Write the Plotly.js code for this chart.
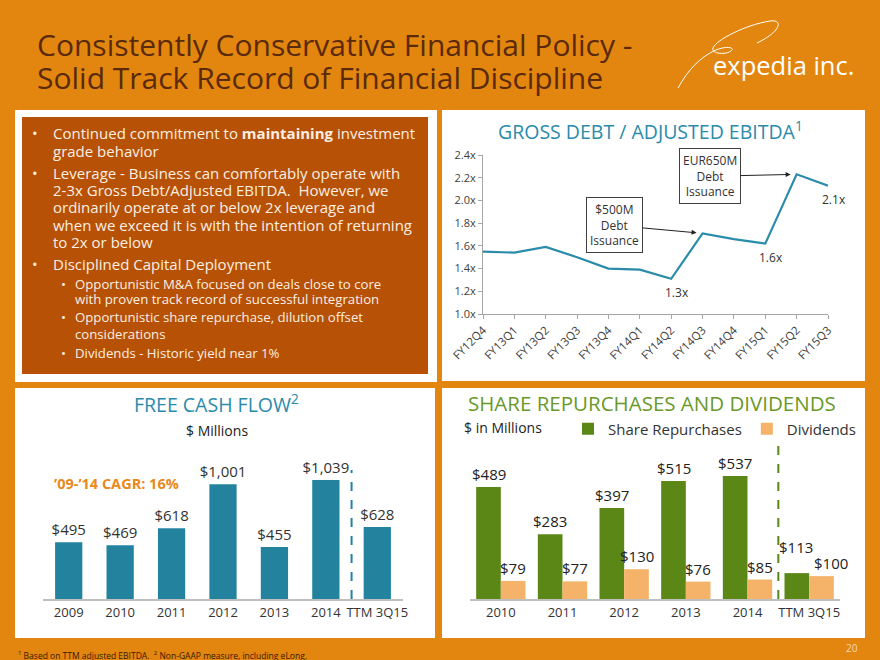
<!DOCTYPE html>
<html>
<head>
<meta charset="utf-8">
<script src="https://cdn.plot.ly/plotly-3.0.1.min.js"></script>
<style>html,body{margin:0;padding:0;background:#E2860F;}#chart{width:880px;height:660px;}</style>
</head>
<body>
<div id="chart"></div>
<script>
// ---------- DATA ----------
const debtQuarters = ['FY12Q4','FY13Q1','FY13Q2','FY13Q3','FY13Q4','FY14Q1','FY14Q2','FY14Q3','FY14Q4','FY15Q1','FY15Q2','FY15Q3'];
const debtRatio = [1.55,1.54,1.59,1.50,1.40,1.39,1.31,1.71,1.66,1.62,2.23,2.13];
const debtLabels = ['','','','','','','1.3x','','','1.6x','','2.1x'];
const debtNotes = ['$500M<br>Debt<br>Issuance','EUR650M<br>Debt<br>Issuance'];
const debtNoteAt = ['FY14Q3','FY15Q2'];

const fcfYears = ['2009','2010','2011','2012','2013','2014','TTM 3Q15'];
const fcfValues = [495,469,618,1001,455,1039,628];

const shareYears = ['2010','2011','2012','2013','2014','TTM 3Q15'];
const repurchases = [489,283,397,515,537,113];
const dividends = [79,77,130,76,85,100];

const titleLines = ['Consistently Conservative Financial Policy -','Solid Track Record of Financial Discipline'];
const bulletLines = [
  ['•','Continued commitment to <b>maintaining</b> investment',1],
  ['','grade behavior',1],
  ['•','Leverage - Business can comfortably operate with',1],
  ['','2-3x Gross Debt/Adjusted EBITDA.  However, we',1],
  ['','ordinarily operate at or below 2x leverage and',1],
  ['','when we exceed it is with the intention of returning',1],
  ['','to 2x or below',1],
  ['•','Disciplined Capital Deployment',1],
  ['•','Opportunistic M&A focused on deals close to core',2],
  ['','with proven track record of successful integration',2],
  ['•','Opportunistic share repurchase, dilution offset',2],
  ['','considerations',2],
  ['•','Dividends - Historic yield near 1%',2]
];
const bulletY = [133,151,173,190,207,225,242,264,284,299,317,334,353];

// ---------- STYLE ----------
const W = 880, H = 660;
const FONT = 'Open Sans, sans-serif';
const ORANGE = '#E2860F', DARKBOX = '#B65105', BROWN = '#5A2A0A';
const TEAL = '#2A8BAA', TEALBAR = '#23839F', GREEN = '#5B8717', GREENTXT = '#6A992A', PEACH = '#F5B36A';
const px = x => x / W;
const py = y => 1 - y / H;
const pt = (x, y) => px(x).toFixed(5) + ',' + py(y).toFixed(5);

// ---------- TRACES ----------
const traces = [
  {type:'scatter', mode:'lines', x:debtQuarters, y:debtRatio, xaxis:'x', yaxis:'y',
   line:{color:TEAL, width:2.2}, showlegend:false, hoverinfo:'skip'},
  {type:'bar', x:fcfYears, y:fcfValues, xaxis:'x2', yaxis:'y2', width:0.53,
   marker:{color:TEALBAR}, texttemplate:'$%{y:,}', textposition:'outside',
   textfont:{size:15, color:'#333', family:FONT}, cliponaxis:false, constraintext:'none', showlegend:false},
  {type:'bar', name:'Share Repurchases', x:shareYears, y:repurchases, xaxis:'x3', yaxis:'y3',
   marker:{color:GREEN}, textposition:'none'},
  {type:'bar', name:'Dividends', x:shareYears, y:dividends, xaxis:'x3', yaxis:'y3',
   marker:{color:PEACH}, textposition:'none'}
];

// ---------- SHAPES ----------
const shapes = [
  {type:'rect', xref:'paper', yref:'paper', x0:px(15), x1:px(437), y0:py(382), y1:py(110), fillcolor:'#FFFFFF', line:{width:0}, layer:'below'},
  {type:'rect', xref:'paper', yref:'paper', x0:px(22), x1:px(428), y0:py(374), y1:py(117), fillcolor:DARKBOX, line:{width:0}, layer:'below'},
  {type:'rect', xref:'paper', yref:'paper', x0:px(442), x1:px(865), y0:py(381), y1:py(110), fillcolor:'#FFFFFF', line:{width:0}, layer:'below'},
  {type:'rect', xref:'paper', yref:'paper', x0:px(15), x1:px(435), y0:py(638), y1:py(388), fillcolor:'#FFFFFF', line:{width:0}, layer:'below'},
  {type:'rect', xref:'paper', yref:'paper', x0:px(442), x1:px(865), y0:py(638), y1:py(388), fillcolor:'#FFFFFF', line:{width:0}, layer:'below'},
  {type:'path', xref:'paper', yref:'paper', layer:'above',
   path:'M'+pt(678,88)+' C'+pt(688,70)+' '+pt(700,57)+' '+pt(716,50)+' C'+pt(725,46)+' '+pt(736,47)+' '+pt(731,51)+
        ' C'+pt(726,55)+' '+pt(711,54)+' '+pt(713,48)+' C'+pt(716,40)+' '+pt(745,25)+' '+pt(770,21)+' C'+pt(783,19)+' '+pt(782,31)+' '+pt(757,43),
   line:{color:'#FFFFFF', width:1}},
  {type:'line', xref:'x2', yref:'y2', x0:5.5, x1:5.5, y0:0, y1:1126, line:{color:TEALBAR, width:2, dash:'dash'}},
  {type:'line', xref:'x3', yref:'y3', x0:4.5, x1:4.5, y0:0, y1:685, line:{color:GREEN, width:2, dash:'dash'}}
];

// ---------- ANNOTATIONS ----------
const ann = [];
titleLines.forEach((t, i) => ann.push({xref:'paper', yref:'paper', x:px(35), y:py(45 + i*33), xanchor:'left', yanchor:'middle',
  text:t, showarrow:false, font:{size:30, color:BROWN, family:FONT}}));
ann.push({xref:'paper', yref:'paper', x:px(711), y:py(65), xanchor:'left', yanchor:'middle', text:'expedia inc.', showarrow:false,
  font:{size:25.5, color:'#FFFFFF', family:FONT}});

bulletLines.forEach((b, i) => {
  const lvl = b[2];
  const fs = lvl === 1 ? 15 : 13.2;
  if (b[0]) ann.push({xref:'paper', yref:'paper', x:px(lvl === 1 ? 31 : 60), y:py(bulletY[i]), xanchor:'left', yanchor:'middle',
    text:b[0], showarrow:false, borderpad:0, font:{size:fs, color:'#FBEFE3', family:FONT}});
  ann.push({xref:'paper', yref:'paper', x:px(lvl === 1 ? 52 : 74), y:py(bulletY[i]), xanchor:'left', yanchor:'middle',
    text:b[1], showarrow:false, borderpad:0, font:{size:fs, color:'#FBEFE3', family:FONT}});
});

ann.push({xref:'paper', yref:'paper', x:px(650), y:py(130), xanchor:'center', yanchor:'middle',
  text:'GROSS DEBT / ADJUSTED EBITDA<sup>1</sup>', showarrow:false, font:{size:19.5, color:TEAL, family:FONT}});
ann.push({xref:'paper', yref:'paper', x:px(216), y:py(403), xanchor:'center', yanchor:'middle',
  text:'FREE CASH FLOW<sup>2</sup>', showarrow:false, font:{size:19.5, color:TEAL, family:FONT}});
ann.push({xref:'paper', yref:'paper', x:px(217), y:py(430), xanchor:'center', yanchor:'middle',
  text:'$ Millions', showarrow:false, font:{size:14, color:'#222', family:FONT}});
ann.push({xref:'paper', yref:'paper', x:px(652), y:py(403), xanchor:'center', yanchor:'middle',
  text:'SHARE REPURCHASES AND DIVIDENDS', showarrow:false, font:{size:20.5, color:GREENTXT, family:FONT}});
ann.push({xref:'paper', yref:'paper', x:px(462), y:py(427), xanchor:'left', yanchor:'middle',
  text:'$ in Millions', showarrow:false, font:{size:14, color:'#222', family:FONT}});
ann.push({xref:'paper', yref:'paper', x:px(52), y:py(484), xanchor:'left', yanchor:'middle',
  text:'<b>’09-’14 CAGR: 16%</b>', showarrow:false, font:{size:14.5, color:'#E8891C', family:FONT}});

debtLabels.forEach((t, i) => { if (t) ann.push({xref:'x', yref:'y', x:debtQuarters[i], y:debtRatio[i], text:t, showarrow:false,
  xshift:6, yshift:-14, font:{size:12, color:'#333', family:FONT}}); });

const noteOffsets = [[-88,-8],[-87,2]];
debtNotes.forEach((t, i) => {
  const idx = debtQuarters.indexOf(debtNoteAt[i]);
  ann.push({xref:'x', yref:'y', x:debtNoteAt[i], y:debtRatio[idx], text:t, showarrow:true,
    ax:noteOffsets[i][0], ay:noteOffsets[i][1], arrowhead:2, arrowsize:1, arrowwidth:1, arrowcolor:'#222', standoff:6,
    bgcolor:'#FFFFFF', bordercolor:'#404040', borderwidth:1, borderpad:3, font:{size:12, color:'#333', family:FONT}});
});

// share repurchase / dividend value labels (positioned over grouped bars)
const lastIdx = shareYears.length - 1;
repurchases.forEach((v, i) => ann.push({xref:'x3', yref:'y3', x:i - 0.2, y:v, yanchor:'bottom', text:'$' + v, showarrow:false,
  xshift: i === lastIdx ? -1 : 0, yshift: i === lastIdx ? 15 : 2, borderpad:0, font:{size:15, color:'#222', family:FONT}}));
dividends.forEach((v, i) => ann.push({xref:'x3', yref:'y3', x:i + 0.2, y:v, yanchor:'bottom', text:'$' + v, showarrow:false,
  xshift: i === lastIdx ? 9 : 0, yshift:2, borderpad:0, font:{size:15, color:'#222', family:FONT}}));

ann.push({xref:'paper', yref:'paper', x:px(16), y:py(655), xanchor:'left', yanchor:'middle',
  text:'<sup>1</sup> Based on TTM adjusted EBITDA.  <sup>2</sup> Non-GAAP measure, including eLong.', showarrow:false,
  font:{size:8.5, color:'#3A1A05', family:FONT}});
ann.push({xref:'paper', yref:'paper', x:px(852), y:py(648), xanchor:'center', yanchor:'middle',
  text:'20', showarrow:false, font:{size:10, color:'#F7D9B0', family:FONT}});

// ---------- LAYOUT ----------
const layout = {
  width:W, height:H, margin:{l:0, r:0, t:0, b:0, pad:0},
  paper_bgcolor:ORANGE, plot_bgcolor:'rgba(0,0,0,0)',
  font:{family:FONT, color:'#333'},
  barmode:'group', bargap:0.2, bargroupgap:0,
  showlegend:true,
  legend:{orientation:'h', x:px(568), y:py(429), xanchor:'left', yanchor:'middle', bgcolor:'rgba(0,0,0,0)',
    font:{size:15, color:'#333', family:FONT}, itemwidth:30, traceorder:'normal'},
  xaxis:{domain:[px(483), px(828)], anchor:'y', type:'category', range:[0, 11], showline:true, linecolor:'#A6A6A6', linewidth:1,
    ticks:'outside', ticklen:4, tickcolor:'#A6A6A6', tickangle:-45, tickfont:{size:11.5, color:'#404040'}, showgrid:false, zeroline:false, fixedrange:true},
  yaxis:{domain:[py(314), py(155)], anchor:'x', range:[1.0, 2.4], dtick:0.2, tickformat:'.1f', ticksuffix:'x', showline:true,
    linecolor:'#A6A6A6', linewidth:1, ticks:'outside', ticklen:4, tickcolor:'#A6A6A6', tickfont:{size:11, color:'#404040'},
    showgrid:false, zeroline:false, fixedrange:true},
  xaxis2:{domain:[px(43), px(403)], anchor:'y2', type:'category', range:[-0.5, 6.5], showline:true, linecolor:'#BFBFBF', linewidth:2,
    ticks:'', tickfont:{size:13, color:'#333'}, showgrid:false, zeroline:false, fixedrange:true},
  yaxis2:{domain:[py(599), py(455.8)], anchor:'x2', range:[0, 1250], visible:false, fixedrange:true},
  xaxis3:{domain:[px(470), px(840)], anchor:'y3', type:'category', range:[-0.5, 5.5], showline:true, linecolor:'#BFBFBF', linewidth:2,
    ticks:'', tickfont:{size:13, color:'#333'}, showgrid:false, zeroline:false, fixedrange:true},
  yaxis3:{domain:[py(599), py(434.1)], anchor:'x3', range:[0, 720], visible:false, fixedrange:true},
  shapes:shapes,
  annotations:ann
};

Plotly.newPlot('chart', traces, layout, {staticPlot:true, displayModeBar:false});
</script>
</body>
</html>
